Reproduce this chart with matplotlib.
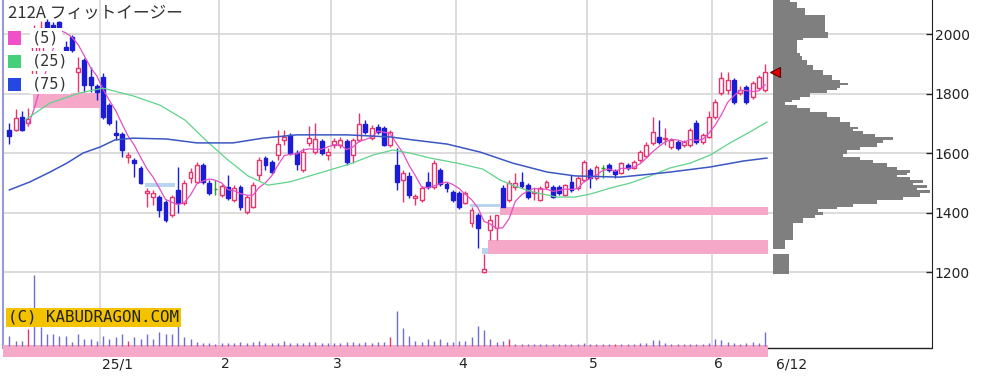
import matplotlib
matplotlib.use('Agg')
import matplotlib.pyplot as plt
import matplotlib.transforms as mtransforms
from matplotlib.patches import Rectangle
import numpy as np
import pandas as pd

# trading days per month, Dec 2024 .. Jun 12 2025
month_days = [15, 19, 18, 20, 21, 20, 9]
month_labels = ['25/1', '2', '3', '4', '5', '6']
last_label = '6/12'

opens = [1677, 1677, 1721, 1701, 1812, 1900, 2040, 2030, 2040, 1956,
         1990, 1872, 1913, 1855, 1825, 1855, 1761, 1667, 1664, 1587,
         1577, 1550, 1466, 1452, 1452, 1435, 1392, 1476, 1432, 1516,
         1502, 1560, 1499, 1479, 1459, 1486, 1442, 1486, 1402, 1419,
         1526, 1583, 1570, 1593, 1644, 1661, 1600, 1543, 1634, 1603,
         1640, 1593, 1627, 1627, 1640, 1593, 1644, 1697, 1650, 1687,
         1684, 1627, 1560, 1509, 1523, 1449, 1442, 1502, 1486, 1543,
         1496, 1469, 1466, 1432, 1365, 1392, 1200, 1341, 1348, 1482,
         1442, 1486, 1502, 1492, 1466, 1442, 1486, 1486, 1486, 1459,
         1502, 1482, 1509, 1543, 1516, 1550, 1560, 1540, 1533, 1560,
         1550, 1577, 1590, 1634, 1654, 1647, 1620, 1637, 1627, 1627,
         1701, 1637, 1654, 1721, 1802, 1812, 1845, 1802, 1822, 1788,
         1818, 1812]
highs = [1701, 1748, 1741, 1751, 2030, 2045, 2050, 2040, 2045, 1975,
         1995, 1923, 1920, 1889, 1832, 1869, 1768, 1711, 1670, 1603,
         1583, 1556, 1482, 1476, 1459, 1442, 1459, 1553, 1509, 1550,
         1570, 1566, 1509, 1509, 1496, 1526, 1492, 1492, 1459, 1502,
         1587, 1590, 1577, 1677, 1677, 1667, 1610, 1617, 1691, 1701,
         1647, 1617, 1650, 1654, 1647, 1650, 1734, 1711, 1694, 1697,
         1691, 1677, 1617, 1543, 1536, 1462, 1489, 1536, 1577, 1550,
         1502, 1476, 1472, 1472, 1419, 1398, 1261, 1392, 1392, 1492,
         1509, 1533, 1536, 1499, 1482, 1489, 1509, 1492, 1492, 1496,
         1526, 1523, 1577, 1550, 1560, 1560, 1566, 1546, 1570, 1566,
         1577, 1610, 1637, 1721, 1711, 1684, 1650, 1644, 1644, 1684,
         1711, 1667, 1741, 1780, 1872, 1872, 1852, 1825, 1829, 1842,
         1862, 1899]
lows = [1630, 1674, 1674, 1691, 1802, 1880, 2000, 2005, 2010, 1940,
        1940, 1805, 1805, 1805, 1778, 1715, 1695, 1644, 1587, 1566,
        1519, 1495, 1419, 1425, 1385, 1368, 1385, 1398, 1425, 1499,
        1499, 1495, 1459, 1459, 1452, 1442, 1435, 1408, 1395, 1415,
        1509, 1543, 1529, 1577, 1627, 1593, 1543, 1536, 1624, 1597,
        1593, 1577, 1617, 1617, 1560, 1566, 1637, 1664, 1644, 1664,
        1624, 1620, 1476, 1435, 1449, 1425, 1435, 1479, 1479, 1489,
        1469, 1435, 1412, 1429, 1351, 1281, 1197, 1308, 1308, 1419,
        1435, 1476, 1482, 1445, 1442, 1438, 1479, 1449, 1459, 1455,
        1469, 1476, 1502, 1482, 1509, 1516, 1536, 1516, 1529, 1543,
        1546, 1570, 1583, 1627, 1630, 1627, 1613, 1610, 1620, 1620,
        1630, 1630, 1650, 1715, 1795, 1798, 1765, 1795, 1765, 1781,
        1812, 1805]
closes = [1657, 1718, 1677, 1714, 1990, 2020, 2010, 2020, 2025, 1946,
          1946, 1886, 1829, 1829, 1805, 1721, 1701, 1661, 1610, 1593,
          1566, 1499, 1472, 1466, 1408, 1375, 1452, 1432, 1499, 1536,
          1560, 1502, 1466, 1479, 1489, 1449, 1482, 1419, 1452, 1492,
          1577, 1560, 1536, 1630, 1654, 1600, 1563, 1603, 1650, 1647,
          1600, 1603, 1640, 1644, 1570, 1644, 1697, 1671, 1684, 1671,
          1627, 1671, 1502, 1533, 1459, 1455, 1482, 1486, 1566, 1496,
          1482, 1442, 1419, 1466, 1408, 1348, 1210, 1375, 1392, 1419,
          1499, 1499, 1489, 1452, 1469, 1482, 1502, 1452, 1466, 1492,
          1476, 1516, 1570, 1516, 1553, 1550, 1543, 1530, 1566, 1550,
          1570, 1603, 1627, 1671, 1637, 1650, 1644, 1617, 1637, 1677,
          1637, 1661, 1721, 1771, 1852, 1845, 1771, 1812, 1771, 1835,
          1855, 1872]
# volume, thousand shares
volume = [100, 50, 50, 170, 710, 190, 120, 120, 100, 100,
          40, 120, 70, 70, 50, 100, 70, 90, 120, 50,
          90, 70, 120, 70, 140, 120, 120, 200, 90, 70,
          40, 30, 30, 20, 30, 30, 30, 40, 30, 40,
          50, 30, 30, 30, 50, 30, 30, 30, 40, 40,
          30, 30, 30, 30, 40, 40, 30, 40, 30, 40,
          40, 90, 350, 180, 100, 50, 40, 70, 50, 70,
          40, 40, 50, 50, 90, 200, 160, 70, 40, 50,
          70, 20, 20, 20, 20, 20, 20, 20, 20, 20,
          20, 20, 30, 20, 20, 20, 20, 20, 20, 20,
          20, 30, 30, 60, 60, 30, 20, 20, 20, 20,
          20, 20, 30, 70, 60, 40, 30, 20, 30, 40,
          30, 140]
vol_red = [3, 19, 61, 80, 97]

# moving averages (candle index, price)
ma25_x = [2.5, 6.5, 11.3, 15, 19.8, 24.1, 28.1, 31.6, 34.8, 38.2, 41.4, 44.9,
          48.1, 51.3, 54.5, 58.2, 61.4, 64.1, 67.4, 71.7, 75.8, 78.6, 81.3,
          83.8, 87.7, 90.6, 93, 96.2, 99.4, 102.6, 105.8, 109, 112.2, 115.4,
          118.6, 121.3]
ma25_y = [1711, 1768, 1802, 1818, 1792, 1761, 1711, 1640, 1580, 1523, 1492,
          1503, 1523, 1543, 1563, 1593, 1610, 1600, 1583, 1566, 1546, 1509,
          1486, 1469, 1452, 1452, 1462, 1482, 1499, 1523, 1550, 1566, 1593,
          1634, 1671, 1704]
ma75_x = [0, 3.3, 6.5, 9.2, 11.8, 14.5, 16.9, 19.8, 25.2, 30, 35.8, 40.6, 46,
          54.1, 61, 64.6, 70.1, 75.4, 80.6, 86.1, 90.6, 97.8, 102.6, 105.8,
          112.2, 117.5, 121.3]
ma75_y = [1476, 1503, 1536, 1566, 1600, 1620, 1644, 1650, 1647, 1634, 1634,
          1650, 1661, 1661, 1654, 1644, 1630, 1603, 1566, 1536, 1523, 1519,
          1529, 1536, 1553, 1573, 1583]

# price gaps (windows)
gap_x0 = [3.8, 21.7, 73.8, 75.7, 76.6, 78.6]
gap_x1 = [14.5, 26.5, 78.6, 76.6, 121.5, 121.5]
gap_lo = [1751, 1486, 1419, 1261, 1261, 1392]
gap_hi = [1802, 1499, 1429, 1281, 1308, 1419]
gap_up = [True, False, False, False, True, True]

# volume by price
profile_hi = [2114, 2108, 2087, 2064, 2007, 1987, 1980, 1936, 1926, 1913, 1896,
              1879, 1862, 1845, 1835, 1829, 1819, 1812, 1802, 1788, 1778, 1771,
              1761, 1751, 1738, 1721, 1704, 1687, 1681, 1674, 1664, 1654, 1644,
              1634, 1620, 1610, 1597, 1587, 1577, 1566, 1553, 1543, 1533, 1526,
              1519, 1509, 1499, 1492, 1482, 1476, 1466, 1452, 1442, 1429, 1419,
              1412, 1402, 1392, 1382, 1365, 1308, 1261]
profile_lo = profile_hi[1:-1] + [1277, 1193]
profile_vol = [17, 24, 32, 52, 55, 30, 24, 27, 29, 34, 40, 50, 59, 67, 75, 67,
               64, 54, 37, 27, 19, 12, 24, 37, 54, 67, 77, 85, 80, 90, 102, 120,
               110, 104, 87, 74, 70, 87, 100, 114, 124, 137, 134, 124, 137, 150,
               140, 154, 144, 157, 147, 130, 104, 80, 64, 45, 50, 42, 30, 20, 12,
               16]

RED = '#e8336b'
BLUE = '#1c1cd6'
GREEN = '#2f9e2f'

W, H = 1001, 382


def rect(x0, y0, x1, y1):
    return [x0 / W, 1 - y1 / H, (x1 - x0) / W, (y1 - y0) / H]


fig = plt.figure(figsize=(10.01, 3.82), dpi=100)
fig.patch.set_facecolor('white')

ax = fig.add_axes(rect(3, 0, 932, 357))
pax = fig.add_axes(rect(773, 0, 932, 357), sharey=ax)
vax = fig.add_axes(rect(3, 0, 932, 357), sharex=ax)
ax.set_zorder(1)
pax.set_zorder(2)
vax.set_zorder(3)

n = len(closes)
x = np.arange(n)
o = np.array(opens, float)
c = np.array(closes, float)

ax.set_xlim(-1.025, 147.73)
ax.set_ylim(914.4, 2114.3)

# grid and frame
ax.grid(axis='y', color='#d6d6d6', lw=1.2)
ax.set_axisbelow(True)
starts = np.cumsum([0] + month_days[:-1])
bounds = list(starts[1:] - 0.5)
for b in bounds:
    ax.axvline(b, color='#d6d6d6', lw=1.2, zorder=0)
for s in ['top', 'bottom']:
    ax.spines[s].set_visible(False)
ax.spines['right'].set_bounds(944.7, 2114.3)
ax.spines['right'].set_color('#222222')
ax.spines['left'].set_bounds(944.7, 2114.3)
ax.spines['left'].set_color('#9a9ad8')
ax.spines['left'].set_linewidth(1.5)
ax.axhline(944.7, color='#222222', lw=1)

ax.yaxis.tick_right()
ax.set_yticks([1200, 1400, 1600, 1800, 2000])
ax.tick_params(axis='y', direction='in', length=4, width=1, pad=2,
               labelsize=10, colors='#222222')
ax.set_xticks(bounds + [n + 0.5])
ax.set_xticklabels(month_labels + [last_label])
ax.tick_params(axis='x', length=0, pad=0, labelsize=10, colors='#222222')
off = mtransforms.ScaledTranslation(0.02, 0, fig.dpi_scale_trans)
for lbl in ax.get_xticklabels():
    lbl.set_ha('left')
    lbl.set_transform(lbl.get_transform() + off)

# gap windows
for x0, x1, lo, hi, up in zip(gap_x0, gap_x1, gap_lo, gap_hi, gap_up):
    ax.add_patch(Rectangle((x0, lo), x1 - x0, hi - lo, lw=0, zorder=1,
                           fc='#f5a8c8' if up else '#b8d4f0'))

# candles
edge = [RED if cc > oo else (BLUE if cc < oo else GREEN) for oo, cc in zip(o, c)]
face = ['white' if cc > oo else (BLUE if cc < oo else GREEN) for oo, cc in zip(o, c)]
ax.vlines(x, lows, highs, colors=edge, lw=1, zorder=3)
ax.bar(x, np.abs(c - o), bottom=np.minimum(o, c), width=0.62, color=face,
       edgecolor=edge, linewidth=1, zorder=4)

# moving averages
ma5 = pd.Series(closes).rolling(5, min_periods=1).mean()
ax.plot(x[3:], ma5[3:], color='#e24fc6', lw=0.9, zorder=5)
ax.plot(ma25_x, ma25_y, color='#5fd38a', lw=0.9, zorder=5)
ax.plot(ma75_x, ma75_y, color='#3a57c4', lw=1.1, zorder=5)

# volume profile
pax.barh(profile_lo, profile_vol, height=np.array(profile_hi) - np.array(profile_lo),
         align='edge', color='#7f7f7f', lw=0)
pax.set_xlim(0, 159)
pax.axis('off')
pax.patch.set_visible(False)
pax.plot([n + 0.6], [closes[-1]], transform=ax.transData, marker='<', ms=6.5,
         mfc='#e00000', mec='#5a0000', mew=0.8, ls='none', clip_on=False, zorder=6)

# volume
vax.set_ylim(-110, 3460)
vax.axis('off')
vax.patch.set_visible(False)
vcol = [RED if i in vol_red else '#6e6ed2' for i in range(n)]
vax.vlines(x, 0, volume, colors=vcol, lw=1)
vax.fill_between([ax.get_xlim()[0], n - 0.5], -110, 10, color='#f5a8c8', lw=0)

# title, legend, watermark
fig.text(8 / W, 1 - 13 / H, '212A フィットイージー', fontsize=12,
         family=['Noto Sans CJK JP', 'DejaVu Sans'], va='center', ha='left',
         color='#333333', zorder=10)
for lbl, col, yc in zip(['(5)', '(25)', '(75)'], ['#f050c8', '#44d07a', '#2448e0'],
                        [38, 61, 84]):
    fig.add_artist(Rectangle((8 / W, 1 - (yc + 6.5) / H), 13 / W, 13 / H,
                             transform=fig.transFigure, fc=col, ec='none', zorder=10))
    fig.text(32 / W, 1 - yc / H, lbl, family='DejaVu Sans Mono', fontsize=11,
             va='center', ha='left', color='#333333', zorder=10,
             bbox=dict(fc='white', ec='none', pad=1.5))
fig.text(8 / W, 1 - 317.5 / H, '(C) KABUDRAGON.COM', family='DejaVu Sans Mono',
         fontsize=11.4, va='center', ha='left', color='#222222', zorder=10,
         bbox=dict(boxstyle='square,pad=0.15', fc='#f4c300', ec='none'))

fig.savefig('out.png', dpi=100)
